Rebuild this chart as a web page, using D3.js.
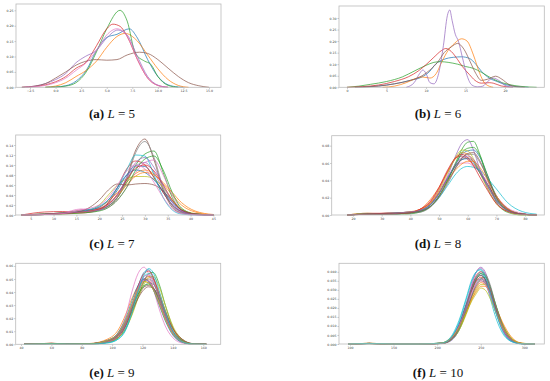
<!DOCTYPE html>
<html>
<head>
<meta charset="utf-8">
<script src="https://cdn.jsdelivr.net/npm/d3@7"></script>
<style>
  html, body { margin: 0; padding: 0; background: #fff; }
  .tick text { font-family: 'DejaVu Sans', sans-serif; font-size: 3.2px; fill: #444; }
  .tick line { stroke: #888; stroke-width: 0.5; }
  .kde { fill: none; stroke-width: 0.8; stroke-opacity: 0.9; }
  .caption { font-family: 'Liberation Serif', serif; font-size: 13px; fill: #111; }
</style>
</head>
<body>
<div id="wrapper"></div>
<script>
// 1. Data (densities)

const tab10 = ['#1f77b4', '#ff7f0e', '#2ca02c', '#d62728', '#9467bd',
  '#8c564b', '#e377c2', '#7f7f7f', '#bcbd22', '#17becf'];

// (a) L = 5 : [value, density]
const aCurves = [
  [[-1,0],[0,0.001],[1,0.005],[2,0.02],[3,0.055],[4,0.12],[5,0.162],[6,0.172],[7.2,0.19],[8,0.16],[9,0.09],[10,0.035],[11,0.008],[12,0.001],[12.5,0]],
  [[-1,0],[0,0.004],[1,0.015],[2,0.035],[3,0.055],[4,0.085],[5,0.13],[6,0.165],[6.8,0.175],[8,0.15],[9,0.105],[10,0.06],[11,0.025],[12,0.006],[13,0]],
  [[-1,0],[0,0.001],[1,0.004],[2,0.015],[3,0.05],[4,0.115],[5,0.19],[6.3,0.25],[7,0.215],[7.8,0.11],[8.7,0.085],[9.3,0.075],[10,0.035],[11,0.006],[12,0]],
  [[-3.3,0],[-2,0.003],[-1,0.008],[0,0.018],[1,0.035],[2,0.062],[3,0.082],[4,0.135],[5,0.19],[5.6,0.205],[6.3,0.198],[7,0.165],[8,0.09],[9,0.03],[10,0.006],[11,0]],
  [[-3.3,0],[-2,0.004],[-1,0.012],[0,0.025],[1,0.045],[2,0.08],[2.9,0.1],[4,0.12],[5,0.16],[6.1,0.186],[7,0.17],[8,0.1],[9,0.035],[10,0.007],[11,0]],
  [[-3.3,0],[-2,0.004],[-1,0.012],[0,0.03],[1,0.05],[2,0.072],[3,0.085],[4,0.09],[5,0.088],[6,0.09],[7,0.105],[8.2,0.114],[9,0.11],[10,0.09],[11,0.062],[12,0.035],[13,0.015],[14,0.005],[15,0]],
  [[-3,0],[-2,0.002],[-1,0.006],[0,0.015],[1,0.03],[2,0.055],[3,0.08],[4,0.12],[5,0.17],[6,0.19],[7,0.165],[8,0.09],[9,0.03],[10,0.006],[11,0]]
];
const aXTicks = [-2.5, 0, 2.5, 5, 7.5, 10, 12.5, 15];
const aYTicks = [0, 0.05, 0.1, 0.15, 0.2, 0.25];

// (b) L = 6 : [value, density]
const bCurves = [
  [[1,0],[4,0.006],[6,0.015],[8,0.03],[9.5,0.045],[10.5,0.07],[11.2,0.1],[12.2,0.12],[13.5,0.13],[14.5,0.132],[15.5,0.125],[16.3,0.1],[17,0.07],[18,0.04],[19,0.025],[20,0.012],[21.5,0.003],[23,0]],
  [[4.5,0],[6,0.005],[7.5,0.02],[8.5,0.035],[9.5,0.045],[10.5,0.04],[11.3,0.06],[12,0.11],[12.8,0.16],[13.6,0.19],[14.5,0.21],[15.2,0.2],[16,0.14],[16.8,0.06],[17.5,0.015],[18.5,0]],
  [[0,0],[1.5,0.005],[3,0.013],[5,0.025],[7,0.045],[8.5,0.07],[10,0.095],[11,0.108],[11.8,0.111],[12.8,0.108],[14,0.1],[15,0.09],[16,0.082],[17,0.065],[18,0.045],[19,0.028],[20.5,0.012],[22,0.004],[24,0]],
  [[0,0],[2,0.003],[4,0.01],[6,0.025],[7.8,0.046],[9,0.07],[10,0.098],[11,0.13],[12,0.16],[12.5,0.168],[13.2,0.155],[14,0.12],[14.6,0.09],[15.5,0.055],[16.2,0.03],[17,0.018],[18,0.02],[18.5,0.018],[19.5,0.006],[21,0]],
  [[7.5,0],[8.5,0.02],[9.2,0.06],[9.6,0.075],[10,0.06],[10.5,0.02],[11,0.015],[11.6,0.06],[12.2,0.18],[12.7,0.31],[13,0.335],[13.3,0.29],[13.7,0.23],[14.1,0.2],[14.6,0.13],[15.2,0.05],[15.8,0.01],[16.5,0.002],[17.2,0.005],[17.8,0.025],[18.5,0.04],[19.2,0.03],[20,0.008],[21,0]],
  [[1,0],[4,0.005],[6,0.015],[8,0.03],[9.5,0.05],[10.5,0.075],[11.5,0.11],[12.3,0.15],[13.2,0.175],[14,0.19],[14.8,0.165],[15.6,0.11],[16.3,0.06],[17,0.03],[17.8,0.035],[18.8,0.048],[19.6,0.035],[20.5,0.012],[21.5,0.002],[22.5,0]]
];
const bXTicks = [0, 5, 10, 15, 20];
const bYTicks = [0, 0.05, 0.1, 0.15, 0.2, 0.25, 0.3];

// (c) L = 7 : densities on a shared grid
const cGrid = [3, 8, 12, 16, 20, 22, 24, 26, 28, 30, 32, 34, 36, 38, 41, 45];
const cCurves = [
  [0, 0.002, 0.004, 0.006, 0.012, 0.025, 0.05, 0.08, 0.098, 0.097, 0.075, 0.045, 0.02, 0.007, 0.001, 0],
  [0, 0.002, 0.004, 0.006, 0.015, 0.028, 0.045, 0.065, 0.083, 0.09, 0.082, 0.062, 0.04, 0.02, 0.006, 0],
  [0, 0.001, 0.003, 0.005, 0.01, 0.018, 0.035, 0.065, 0.1, 0.122, 0.128, 0.085, 0.035, 0.01, 0.002, 0],
  [0, 0.006, 0.007, 0.004, 0.01, 0.025, 0.055, 0.092, 0.108, 0.1, 0.075, 0.045, 0.02, 0.007, 0.001, 0],
  [0, 0.001, 0.003, 0.008, 0.014, 0.022, 0.04, 0.07, 0.098, 0.105, 0.085, 0.05, 0.02, 0.006, 0.001, 0],
  [0, 0.001, 0.004, 0.01, 0.012, 0.018, 0.035, 0.075, 0.13, 0.152, 0.11, 0.05, 0.015, 0.004, 0.001, 0],
  [0, 0.001, 0.004, 0.012, 0.01, 0.015, 0.03, 0.055, 0.085, 0.105, 0.11, 0.08, 0.04, 0.012, 0.002, 0],
  [0, 0.001, 0.003, 0.006, 0.01, 0.018, 0.035, 0.07, 0.125, 0.147, 0.115, 0.055, 0.018, 0.005, 0.001, 0],
  [0, 0.002, 0.004, 0.006, 0.02, 0.04, 0.06, 0.072, 0.077, 0.077, 0.072, 0.055, 0.03, 0.012, 0.003, 0],
  [0, 0.001, 0.003, 0.008, 0.018, 0.03, 0.055, 0.09, 0.12, 0.118, 0.08, 0.035, 0.01, 0.002, 0, 0],
  [0, 0.002, 0.004, 0.007, 0.016, 0.03, 0.055, 0.08, 0.09, 0.085, 0.07, 0.048, 0.025, 0.01, 0.002, 0],
  [0, 0.001, 0.002, 0.005, 0.012, 0.022, 0.038, 0.06, 0.078, 0.085, 0.08, 0.065, 0.045, 0.025, 0.008, 0.001],
  [0, 0.001, 0.002, 0.004, 0.008, 0.015, 0.03, 0.055, 0.09, 0.112, 0.118, 0.09, 0.045, 0.014, 0.002, 0],
  [0, 0.001, 0.003, 0.006, 0.012, 0.022, 0.042, 0.07, 0.094, 0.1, 0.088, 0.06, 0.03, 0.01, 0.002, 0],
  [0, 0.001, 0.003, 0.006, 0.01, 0.02, 0.04, 0.075, 0.105, 0.115, 0.095, 0.06, 0.025, 0.008, 0.001, 0],
  [0, 0.002, 0.004, 0.008, 0.03, 0.05, 0.062, 0.06, 0.062, 0.063, 0.06, 0.048, 0.028, 0.01, 0.002, 0],
  [0, 0.001, 0.003, 0.01, 0.02, 0.035, 0.06, 0.088, 0.1, 0.092, 0.065, 0.035, 0.012, 0.003, 0, 0]
];
const cXTicks = [5, 10, 15, 20, 25, 30, 35, 40, 45];
const cYTicks = [0, 0.02, 0.04, 0.06, 0.08, 0.1, 0.12, 0.14];

// (d) L = 8
const dGrid = [18, 25, 32, 38, 43, 47, 50, 53, 56, 58, 60, 62, 64, 67, 70, 74, 79, 84];
const dCurves = [
  [0, 0.001, 0.001, 0.002, 0.004, 0.012, 0.025, 0.042, 0.06, 0.07, 0.074, 0.075, 0.068, 0.045, 0.022, 0.007, 0.001, 0],
  [0, 0.001, 0.002, 0.002, 0.006, 0.018, 0.032, 0.05, 0.066, 0.072, 0.07, 0.062, 0.05, 0.032, 0.016, 0.005, 0.001, 0],
  [0, 0.001, 0.001, 0.001, 0.003, 0.01, 0.022, 0.04, 0.062, 0.076, 0.084, 0.085, 0.072, 0.04, 0.015, 0.003, 0, 0],
  [0, 0.002, 0.002, 0.002, 0.006, 0.015, 0.03, 0.05, 0.066, 0.068, 0.064, 0.058, 0.05, 0.035, 0.02, 0.007, 0.001, 0],
  [0, 0.001, 0.001, 0.002, 0.005, 0.012, 0.024, 0.045, 0.07, 0.083, 0.087, 0.075, 0.055, 0.03, 0.014, 0.004, 0.001, 0],
  [0, 0.001, 0.002, 0.003, 0.005, 0.013, 0.026, 0.043, 0.058, 0.064, 0.066, 0.062, 0.052, 0.035, 0.018, 0.006, 0.001, 0],
  [0, 0.001, 0.001, 0.002, 0.006, 0.015, 0.028, 0.044, 0.056, 0.06, 0.06, 0.056, 0.05, 0.038, 0.022, 0.008, 0.002, 0],
  [0, 0.001, 0.001, 0.002, 0.003, 0.009, 0.02, 0.036, 0.055, 0.065, 0.07, 0.07, 0.062, 0.042, 0.022, 0.007, 0.001, 0],
  [0, 0.002, 0.001, 0.002, 0.005, 0.014, 0.028, 0.048, 0.068, 0.075, 0.074, 0.065, 0.05, 0.03, 0.013, 0.004, 0, 0],
  [0, 0.001, 0.001, 0.002, 0.004, 0.01, 0.02, 0.034, 0.048, 0.054, 0.056, 0.055, 0.052, 0.042, 0.03, 0.014, 0.004, 0.001],
  [0, 0.001, 0.002, 0.003, 0.005, 0.012, 0.025, 0.042, 0.058, 0.064, 0.065, 0.06, 0.05, 0.033, 0.017, 0.005, 0.001, 0],
  [0, 0.001, 0.001, 0.003, 0.006, 0.014, 0.026, 0.04, 0.053, 0.059, 0.062, 0.062, 0.056, 0.04, 0.022, 0.007, 0.001, 0],
  [0, 0.001, 0.001, 0.002, 0.004, 0.01, 0.022, 0.04, 0.06, 0.072, 0.077, 0.078, 0.07, 0.045, 0.02, 0.005, 0.001, 0],
  [0, 0.001, 0.002, 0.002, 0.006, 0.016, 0.032, 0.052, 0.067, 0.07, 0.066, 0.057, 0.045, 0.028, 0.013, 0.004, 0.001, 0],
  [0, 0.001, 0.001, 0.003, 0.005, 0.012, 0.025, 0.043, 0.06, 0.066, 0.068, 0.064, 0.054, 0.034, 0.016, 0.005, 0.001, 0],
  [0, 0.001, 0.001, 0.002, 0.004, 0.01, 0.021, 0.038, 0.056, 0.066, 0.071, 0.072, 0.064, 0.042, 0.02, 0.006, 0.001, 0]
];
const dXTicks = [20, 30, 40, 50, 60, 70, 80];
const dYTicks = [0, 0.02, 0.04, 0.06, 0.08];

// (e) L = 9
const eGrid = [42, 52, 60, 70, 85, 97, 104, 109, 113, 117, 121, 124, 127, 131, 135, 140, 146, 153, 162];
const eCurves = [
  [0, 0.0002, 0.0005, 0.0002, 0.0002, 0.0015, 0.005, 0.014, 0.028, 0.044, 0.055, 0.057, 0.052, 0.038, 0.022, 0.008, 0.0015, 0.0002, 0],
  [0, 0.0004, 0.0008, 0.0003, 0.0006, 0.004, 0.011, 0.023, 0.035, 0.044, 0.048, 0.047, 0.042, 0.031, 0.019, 0.008, 0.002, 0.0002, 0],
  [0, 0.0003, 0.0005, 0.0002, 0.0002, 0.0015, 0.005, 0.012, 0.023, 0.036, 0.048, 0.054, 0.055, 0.046, 0.03, 0.013, 0.003, 0.0003, 0],
  [0, 0.0003, 0.0007, 0.0002, 0.0004, 0.003, 0.008, 0.018, 0.03, 0.042, 0.05, 0.049, 0.044, 0.033, 0.021, 0.009, 0.0025, 0.0003, 0],
  [0, 0.0003, 0.0006, 0.0002, 0.0003, 0.002, 0.006, 0.015, 0.028, 0.041, 0.05, 0.052, 0.048, 0.036, 0.023, 0.01, 0.0025, 0.0003, 0],
  [0, 0.0004, 0.0007, 0.0003, 0.0005, 0.003, 0.008, 0.017, 0.028, 0.038, 0.044, 0.045, 0.043, 0.035, 0.024, 0.012, 0.004, 0.0005, 0],
  [0, 0.0002, 0.0005, 0.0002, 0.0003, 0.003, 0.009, 0.022, 0.04, 0.054, 0.059, 0.054, 0.043, 0.027, 0.014, 0.005, 0.001, 0.0001, 0],
  [0, 0.0003, 0.0005, 0.0002, 0.0003, 0.002, 0.006, 0.014, 0.025, 0.036, 0.044, 0.047, 0.046, 0.038, 0.026, 0.012, 0.0035, 0.0004, 0],
  [0, 0.0002, 0.0005, 0.0002, 0.0002, 0.0015, 0.005, 0.012, 0.022, 0.035, 0.046, 0.051, 0.052, 0.044, 0.03, 0.014, 0.004, 0.0004, 0],
  [0, 0.0002, 0.0004, 0.0002, 0.0002, 0.001, 0.004, 0.012, 0.026, 0.042, 0.052, 0.054, 0.05, 0.037, 0.022, 0.009, 0.002, 0.0002, 0],
  [0, 0.0003, 0.0006, 0.0002, 0.0004, 0.003, 0.009, 0.02, 0.033, 0.045, 0.05, 0.048, 0.042, 0.03, 0.018, 0.007, 0.0018, 0.0002, 0],
  [0, 0.0003, 0.0006, 0.0002, 0.0004, 0.0025, 0.007, 0.015, 0.026, 0.039, 0.048, 0.052, 0.05, 0.04, 0.026, 0.012, 0.003, 0.0003, 0],
  [0, 0.0003, 0.0006, 0.0003, 0.0004, 0.0025, 0.007, 0.016, 0.027, 0.038, 0.045, 0.046, 0.043, 0.034, 0.022, 0.01, 0.003, 0.0003, 0],
  [0, 0.0002, 0.0006, 0.0002, 0.0003, 0.002, 0.006, 0.015, 0.029, 0.044, 0.054, 0.056, 0.051, 0.037, 0.022, 0.009, 0.002, 0.0002, 0],
  [0, 0.0003, 0.0006, 0.0002, 0.0004, 0.003, 0.008, 0.018, 0.03, 0.042, 0.049, 0.048, 0.043, 0.032, 0.02, 0.008, 0.002, 0.0002, 0],
  [0, 0.0004, 0.0008, 0.0003, 0.0004, 0.0025, 0.007, 0.015, 0.025, 0.035, 0.042, 0.044, 0.043, 0.036, 0.025, 0.012, 0.004, 0.0005, 0],
  [0, 0.0003, 0.0005, 0.0002, 0.0003, 0.002, 0.0065, 0.016, 0.029, 0.043, 0.052, 0.053, 0.049, 0.036, 0.022, 0.009, 0.002, 0.0002, 0],
  [0, 0.0003, 0.0006, 0.0002, 0.0003, 0.0022, 0.0065, 0.016, 0.028, 0.04, 0.048, 0.05, 0.047, 0.036, 0.023, 0.01, 0.0027, 0.0003, 0],
  [0, 0.0003, 0.0006, 0.0002, 0.0004, 0.003, 0.0085, 0.019, 0.031, 0.042, 0.048, 0.047, 0.042, 0.031, 0.019, 0.008, 0.002, 0.0002, 0],
  [0, 0.0002, 0.0004, 0.0002, 0.0002, 0.0012, 0.004, 0.011, 0.024, 0.04, 0.053, 0.058, 0.055, 0.041, 0.025, 0.01, 0.002, 0.0002, 0]
];
const eXTicks = [40, 60, 80, 100, 120, 140, 160];
const eYTicks = [0, 0.01, 0.02, 0.03, 0.04, 0.05, 0.06];

// (f) L = 10
const fGrid = [98, 110, 122, 135, 150, 180, 205, 215, 225, 233, 240, 245, 250, 255, 260, 267, 275, 285, 297, 312];
const fCurves = [
  [0, 0.0002, 0.0003, 0.0002, 0, 0, 0.0005, 0.003, 0.011, 0.022, 0.032, 0.037, 0.039, 0.036, 0.029, 0.018, 0.008, 0.002, 0.0002, 0],
  [0, 0.0002, 0.0003, 0.0001, 0, 0, 0.0003, 0.002, 0.008, 0.017, 0.026, 0.031, 0.034, 0.033, 0.029, 0.02, 0.01, 0.003, 0.0003, 0],
  [0, 0.0001, 0.0002, 0.0001, 0, 0, 0.0003, 0.0018, 0.0075, 0.017, 0.027, 0.033, 0.036, 0.037, 0.032, 0.022, 0.011, 0.003, 0.0003, 0],
  [0, 0.0002, 0.0003, 0.0002, 0, 0, 0.0004, 0.0025, 0.01, 0.021, 0.032, 0.038, 0.04, 0.038, 0.032, 0.021, 0.01, 0.0025, 0.0003, 0],
  [0, 0.0001, 0.0002, 0.0001, 0, 0, 0.0002, 0.0015, 0.008, 0.02, 0.033, 0.04, 0.0425, 0.04, 0.033, 0.02, 0.008, 0.0015, 0.0001, 0],
  [0, 0.0002, 0.0004, 0.0002, 0, 0, 0.0004, 0.0025, 0.009, 0.018, 0.027, 0.032, 0.035, 0.034, 0.03, 0.021, 0.011, 0.003, 0.0003, 0],
  [0, 0.0001, 0.0002, 0.0001, 0, 0, 0.0003, 0.002, 0.009, 0.021, 0.034, 0.04, 0.042, 0.039, 0.032, 0.019, 0.008, 0.0018, 0.0002, 0],
  [0, 0.0002, 0.0003, 0.0002, 0, 0, 0.0004, 0.0028, 0.01, 0.021, 0.03, 0.035, 0.036, 0.034, 0.028, 0.018, 0.0085, 0.0022, 0.0002, 0],
  [0, 0.0002, 0.0003, 0.0001, 0, 0, 0.0003, 0.002, 0.0075, 0.016, 0.025, 0.03, 0.033, 0.033, 0.03, 0.021, 0.011, 0.0035, 0.0004, 0],
  [0, 0.0002, 0.0003, 0.0002, 0, 0, 0.0006, 0.0035, 0.013, 0.025, 0.036, 0.04, 0.041, 0.036, 0.027, 0.015, 0.006, 0.0014, 0.0001, 0],
  [0, 0.0002, 0.0003, 0.0002, 0, 0, 0.0004, 0.0028, 0.0105, 0.021, 0.031, 0.036, 0.038, 0.036, 0.03, 0.019, 0.0085, 0.002, 0.0002, 0],
  [0, 0.0002, 0.0004, 0.0002, 0, 0, 0.0005, 0.0028, 0.009, 0.017, 0.025, 0.029, 0.032, 0.032, 0.029, 0.021, 0.012, 0.004, 0.0005, 0],
  [0, 0.0001, 0.0002, 0.0001, 0, 0, 0.0003, 0.002, 0.0085, 0.019, 0.03, 0.036, 0.039, 0.038, 0.033, 0.022, 0.01, 0.0025, 0.0002, 0],
  [0, 0.0002, 0.0003, 0.0002, 0, 0, 0.0004, 0.0025, 0.0095, 0.02, 0.03, 0.035, 0.037, 0.035, 0.03, 0.02, 0.0095, 0.0025, 0.0003, 0],
  [0, 0.0002, 0.0003, 0.0002, 0, 0, 0.0004, 0.0024, 0.009, 0.019, 0.028, 0.034, 0.036, 0.035, 0.03, 0.02, 0.01, 0.0027, 0.0003, 0],
  [0, 0.0002, 0.0003, 0.0002, 0, 0, 0.0003, 0.0022, 0.009, 0.02, 0.031, 0.036, 0.038, 0.036, 0.031, 0.02, 0.009, 0.0022, 0.0002, 0],
  [0, 0.0002, 0.0003, 0.0002, 0, 0, 0.0004, 0.0027, 0.0098, 0.02, 0.029, 0.033, 0.035, 0.033, 0.028, 0.018, 0.0085, 0.0023, 0.0002, 0],
  [0, 0.0001, 0.0002, 0.0001, 0, 0, 0.0003, 0.002, 0.0085, 0.02, 0.031, 0.037, 0.04, 0.039, 0.034, 0.022, 0.01, 0.0024, 0.0002, 0],
  [0, 0.0002, 0.0004, 0.0002, 0, 0, 0.0006, 0.003, 0.009, 0.017, 0.024, 0.028, 0.031, 0.03, 0.026, 0.018, 0.0095, 0.003, 0.0004, 0],
  [0, 0.0002, 0.0003, 0.0002, 0, 0, 0.0005, 0.003, 0.012, 0.024, 0.035, 0.04, 0.0415, 0.038, 0.03, 0.018, 0.007, 0.0016, 0.0001, 0]
];
const fXTicks = [100, 150, 200, 250, 300];
const fYTicks = [0, 0.005, 0.01, 0.015, 0.02, 0.025, 0.03, 0.035, 0.04];

const captionLetters = ['(a)', '(b)', '(c)', '(d)', '(e)', '(f)'];
const captionLevels = [5, 6, 7, 8, 9, 10];

// 2. Layout

const width = 550;
const height = 381;

const zip = (grid, curves) => curves.map((ys) => grid.map((v, i) => [v, ys[i]]));

const panels = [
  { curves: aCurves, box: [16, 221, 4, 87.3], xDomain: [-3.87, 16.17], yDomain: [0, 0.2705],
    xTicks: aXTicks, yTicks: aYTicks, xFmt: d3.format('.1f'), yFmt: d3.format('.2f'), cap: [112, 118] },
  { curves: bCurves, box: [339, 544.3, 6, 87.3], xDomain: [-1.01, 24.97], yDomain: [0, 0.352],
    xTicks: bXTicks, yTicks: bYTicks, xFmt: d3.format('d'), yFmt: d3.format('.2f'), cap: [438, 118] },
  { curves: zip(cGrid, cCurves), box: [15.7, 220.7, 135, 215], xDomain: [1.71, 46.6], yDomain: [0, 0.16],
    xTicks: cXTicks, yTicks: cYTicks, xFmt: d3.format('d'), yFmt: d3.format('.2f'), cap: [112, 248] },
  { curves: zip(dGrid, dCurves), box: [331.7, 544.3, 135.7, 215], xDomain: [12.57, 86.7], yDomain: [0, 0.0915],
    xTicks: dXTicks, yTicks: dYTicks, xFmt: d3.format('d'), yFmt: d3.format('.2f'), cap: [438, 248] },
  { curves: zip(eGrid, eCurves), box: [15.7, 220.7, 263.3, 344.3], xDomain: [36.5, 171.5], yDomain: [0, 0.062],
    xTicks: eXTicks, yTicks: eYTicks, xFmt: d3.format('d'), yFmt: d3.format('.2f'), cap: [112, 377] },
  { curves: zip(fGrid, fCurves), box: [339, 544.3, 263.3, 344], xDomain: [87.4, 322.9], yDomain: [0, 0.0447],
    xTicks: fXTicks, yTicks: fYTicks, xFmt: d3.format('d'), yFmt: d3.format('.3f'), cap: [438, 377] }
];

// 3. Draw canvas

const svg = d3.select('#wrapper')
  .append('svg')
  .attr('width', width)
  .attr('height', height);

panels.forEach((p, k) => {
  const [left, right, top, bottom] = p.box;
  const g = svg.append('g');

  // 4. Scales
  const xScale = d3.scaleLinear().domain(p.xDomain).range([left, right]);
  const yScale = d3.scaleLinear().domain(p.yDomain).range([bottom, top]);

  // 5. Draw data
  const line = d3.line()
    .x((d) => xScale(d[0]))
    .y((d) => yScale(d[1]))
    .curve(d3.curveMonotoneX);

  g.selectAll('.kde')
    .data(p.curves)
    .join('path')
    .attr('class', 'kde')
    .attr('d', line)
    .attr('stroke', (d, i) => tab10[i % 10]);

  // 6. Peripherals
  const xAxis = g.append('g')
    .attr('transform', `translate(0,${bottom})`)
    .call(d3.axisBottom(xScale).tickValues(p.xTicks).tickFormat(p.xFmt).tickSize(1.5).tickPadding(1));
  const yAxis = g.append('g')
    .attr('transform', `translate(${left},0)`)
    .call(d3.axisLeft(yScale).tickValues(p.yTicks).tickFormat(p.yFmt).tickSize(1.5).tickPadding(1));
  xAxis.select('.domain').remove();
  yAxis.select('.domain').remove();

  g.append('rect')
    .attr('x', left)
    .attr('y', top)
    .attr('width', right - left)
    .attr('height', bottom - top)
    .attr('fill', 'none')
    .attr('stroke', '#bbb')
    .attr('stroke-width', 0.8);

  const caption = g.append('text')
    .attr('class', 'caption')
    .attr('x', p.cap[0])
    .attr('y', p.cap[1])
    .attr('text-anchor', 'middle');
  caption.append('tspan').attr('font-weight', 'bold').text(captionLetters[k]);
  caption.append('tspan').text(' ');
  caption.append('tspan').attr('font-style', 'italic').text('L');
  caption.append('tspan').text(' = ' + captionLevels[k]);
});
</script>
</body>
</html>
